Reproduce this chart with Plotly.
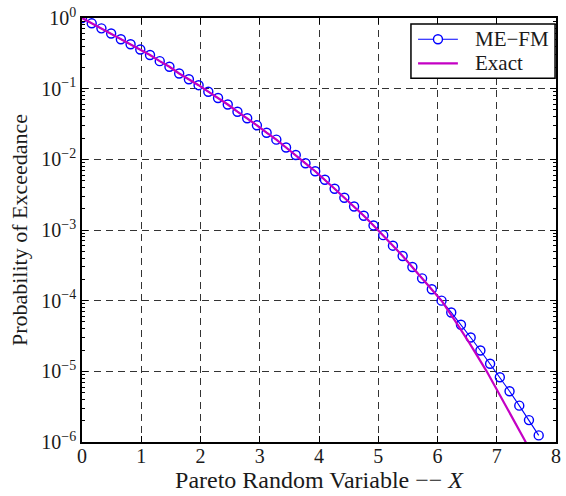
import plotly.graph_objects as go

# ME-FM approximation, sampled at equally spaced points
mefm_x = [0.000, 0.164, 0.328, 0.492, 0.656, 0.820, 0.984, 1.148, 1.312, 1.476,
          1.640, 1.804, 1.968, 2.132, 2.296, 2.460, 2.624, 2.788, 2.952, 3.116,
          3.280, 3.444, 3.608, 3.772, 3.936, 4.100, 4.264, 4.428, 4.592, 4.756,
          4.920, 5.084, 5.248, 5.412, 5.576, 5.740, 5.904, 6.068, 6.232, 6.396,
          6.560, 6.724, 6.888, 7.052, 7.216, 7.380, 7.544, 7.708]
mefm_p = [1.0, 0.841, 0.714, 0.604, 0.501, 0.425, 0.358, 0.299, 0.245, 0.204,
          0.164, 0.136, 0.112, 0.0906, 0.0738, 0.0597, 0.0472, 0.0381, 0.0303, 0.0238,
          0.0190, 0.0147, 0.0115, 0.00879, 0.00678, 0.00514, 0.00383, 0.00286, 0.00215, 0.00159,
          0.00116, 8.45e-4, 6.00e-4, 4.29e-4, 3.00e-4, 2.07e-4, 1.45e-4, 1.00e-4, 6.81e-5, 4.57e-5,
          3.01e-5, 1.97e-5, 1.28e-5, 8.26e-6, 5.22e-6, 3.27e-6, 2.04e-6, 1.24e-6]

# Exact exceedance probability
exact_x = [0.000, 0.164, 0.328, 0.492, 0.656, 0.820, 0.984, 1.148, 1.312, 1.476,
           1.640, 1.804, 1.968, 2.132, 2.296, 2.460, 2.624, 2.788, 2.952, 3.116,
           3.280, 3.444, 3.608, 3.772, 3.936, 4.100, 4.264, 4.428, 4.592, 4.756,
           4.920, 5.084, 5.248, 5.412, 5.576, 5.740, 5.904, 6.068, 6.300, 6.540,
           6.830, 6.990, 7.250, 7.470, 7.550]
exact_p = [1.0, 0.841, 0.714, 0.604, 0.501, 0.425, 0.358, 0.299, 0.245, 0.204,
           0.164, 0.136, 0.112, 0.0906, 0.0738, 0.0597, 0.0472, 0.0381, 0.0303, 0.0238,
           0.0190, 0.0147, 0.0115, 0.00879, 0.00678, 0.00514, 0.00383, 0.00286, 0.00215, 0.00159,
           0.00116, 8.45e-4, 6.00e-4, 4.29e-4, 3.00e-4, 2.07e-4, 1.45e-4, 1.00e-4, 5.13e-5, 2.51e-5,
           1.00e-5, 5.75e-6, 2.40e-6, 1.07e-6, 7.9e-7]

x_ticks = [0, 1, 2, 3, 4, 5, 6, 7, 8]
y_exponents = [0, -1, -2, -3, -4, -5, -6]
series_names = ["ME\u2212FM", "Exact"]

FONT = "Liberation Serif, Times New Roman, serif"
TXT = "#1a1a1a"
BLUE = "#0000FF"
MAGENTA = "#C400C4"

y_tickvals = [10.0 ** e for e in y_exponents]
y_ticktext = ["10<sup>%s</sup>" % (str(e).replace("-", "\u2212")) for e in y_exponents]
y_minor = [k * 10.0 ** e for e in y_exponents[1:] for k in range(2, 10)]

fig = go.Figure()
fig.add_trace(go.Scatter(
    x=mefm_x, y=mefm_p, name=series_names[0], mode="lines+markers",
    line=dict(color=BLUE, width=1.1),
    marker=dict(symbol="circle-open", size=9, color=BLUE, line=dict(width=1.4)),
    showlegend=False,
))
fig.add_trace(go.Scatter(
    x=exact_x, y=exact_p, name=series_names[1], mode="lines",
    line=dict(color=MAGENTA, width=2.2),
    showlegend=False,
))

# Boxed legend in the upper-right corner of the axes (paper coordinates)
box_x0, box_x1, box_y0, box_y1 = 0.694, 0.998, 0.858, 0.986
line_x0, line_x1, mark_x, text_x = 0.709, 0.793, 0.751, 0.825
row_y = [0.950, 0.893]
shapes = [
    dict(type="rect", xref="paper", yref="paper", x0=box_x0, x1=box_x1, y0=box_y0, y1=box_y1,
         line=dict(color="black", width=1.5), fillcolor="white", layer="above"),
    dict(type="line", xref="paper", yref="paper", x0=line_x0, x1=line_x1, y0=row_y[0], y1=row_y[0],
         line=dict(color=BLUE, width=1.1), layer="above"),
    dict(type="circle", xref="paper", yref="paper", xsizemode="pixel", ysizemode="pixel",
         xanchor=mark_x, yanchor=row_y[0], x0=-4.5, x1=4.5, y0=-4.5, y1=4.5,
         line=dict(color=BLUE, width=1.4), fillcolor="white", layer="above"),
    dict(type="line", xref="paper", yref="paper", x0=line_x0, x1=line_x1, y0=row_y[1], y1=row_y[1],
         line=dict(color=MAGENTA, width=2.2), layer="above"),
]
annotations = [
    dict(text=name, xref="paper", yref="paper", x=text_x, y=yy, xanchor="left", yanchor="middle",
         showarrow=False, font=dict(family=FONT, size=21, color=TXT))
    for name, yy in zip(series_names, row_y)
]

fig.update_layout(
    width=566, height=496,
    margin=dict(l=82, r=10, t=18, b=54),
    paper_bgcolor="white", plot_bgcolor="white",
    font=dict(family=FONT, size=20, color=TXT),
    showlegend=False,
    shapes=shapes,
    annotations=annotations,
)

fig.update_xaxes(
    range=[0, 8], tickmode="array", tickvals=x_ticks, automargin=False,
    ticks="inside", ticklen=6, tickwidth=1, tickcolor="black",
    ticklabelstandoff=-5,
    showline=True, linecolor="black", linewidth=1.5, mirror="ticks",
    showgrid=True, gridcolor="#333333", gridwidth=1.1, griddash="7px,5px",
    zeroline=False,
    tickfont=dict(family=FONT, size=20, color=TXT),
    title=dict(text="Pareto Random Variable \u2212\u2212 <i>X</i>", standoff=2,
               font=dict(family=FONT, size=24, color=TXT)),
)
fig.update_yaxes(
    type="log", range=[-6, 0], tickmode="array", automargin=False,
    tickvals=y_tickvals, ticktext=y_ticktext,
    ticks="inside", ticklen=6, tickwidth=1, tickcolor="black",
    minor=dict(tickmode="array", tickvals=y_minor, ticks="inside", ticklen=3,
               tickcolor="black", showgrid=False),
    showline=True, linecolor="black", linewidth=1.5, mirror="ticks",
    showgrid=True, gridcolor="#333333", gridwidth=1.1, griddash="7px,5px",
    zeroline=False,
    tickfont=dict(family=FONT, size=20, color=TXT),
    title=dict(text="Probability of Exceedance", standoff=8,
               font=dict(family=FONT, size=22, color=TXT)),
)

fig.write_html("out.html")
